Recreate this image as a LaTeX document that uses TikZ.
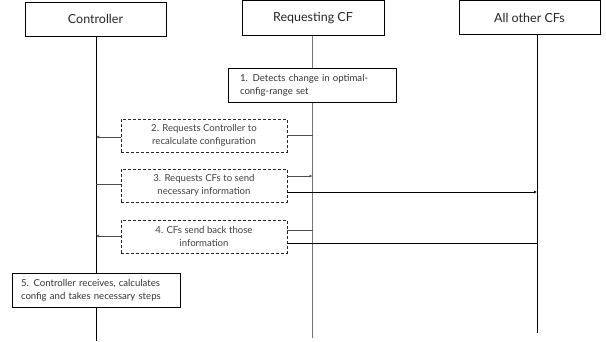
\documentclass[tikz,border=0pt]{standalone}
\usepackage{fontspec}
\setmainfont{Lato}
\usetikzlibrary{arrows.meta}
\begin{document}
\begin{tikzpicture}[x=1pt,y=1pt,
  head/.style={draw=black,line width=0.8pt,fill=white,inner sep=0pt,font=\fontsize{12.5}{14}\selectfont,text=black!85},
  stepbox/.style={draw=black,line width=0.8pt,fill=white,inner ysep=0pt,inner xsep=#1,align=left,font=\fontsize{9.6}{13.2}\selectfont,text=black!80},
  msgbox/.style={draw=black!85,line width=0.8pt,dash pattern=on 3pt off 2pt,fill=white,inner sep=0pt,minimum width=166pt,minimum height=33pt,align=center,font=\fontsize{9.6}{13.2}\selectfont,text=black!75},
  life/.style={line width=0.8pt,black},
  msg/.style={line width=0.8pt,black!70},
  arr/.style={msg,-{Latex[length=3pt,width=3pt]}},
]
\useasboundingbox (0,0) rectangle (606,-341);
% lifeline coordinates
\coordinate (cb) at (96,-341);
\coordinate (rb) at (312.5,-338);
\coordinate (ab) at (537,-333);
% header boxes
\node[head,minimum width=141pt,minimum height=33.5pt] (ctrl) at (95.5,-19.3) {Controller};
\node[head,minimum width=142pt,minimum height=35pt] (req) at (313,-18) {Requesting CF};
\node[head,minimum width=141pt,minimum height=34pt] (oth) at (529.5,-17.5) {All other CFs};
% lifelines
\draw[life] (ctrl.south -| cb) -- (cb);
\draw[line width=1.2pt,black!55] (req.south -| rb) -- (rb);
\draw[life] (oth.south -| ab) -- (ab);
% step boxes
\node[stepbox=12pt,text width=144pt,minimum height=34pt] (s1) at (312,-85) {1. Detects change in optimal-\\config-range set};
\node[stepbox=9pt,text width=150pt,minimum height=34pt] (s5) at (96,-290) {5. Controller receives, calculates\\config and takes necessary steps};
% message boxes
\node[msgbox] (m2) at (204,-135.5) {2. Requests Controller to\\recalculate configuration};
\node[msgbox] (m3) at (204,-185.5) {3. Requests CFs to send\\necessary information};
\node[msgbox] (m4) at (204,-236.5) {4. CFs send back those\\information};
% message 2
\coordinate (r2) at (312.5,-135);
\coordinate (c2) at (96,-137);
\draw[msg] (r2) -- (m2.east |- r2);
\draw[arr] (m2.west |- c2) -- (c2);
% message 3
\coordinate (c3) at (96,-184);
\coordinate (r3) at (312.5,-176);
\coordinate (a3) at (537,-192);
\draw[msg] (c3) -- (m3.west |- c3);
\draw[arr] (m3.east |- r3) -- (r3);
\draw[-{Latex[length=3pt,width=3pt]},line width=0.8pt,black] (m3.east |- a3) -- (a3);
% message 4
\coordinate (r4) at (312.5,-230);
\coordinate (c4) at (96,-236);
\coordinate (a4) at (537,-243);
\draw[msg] (r4) -- (m4.east |- r4);
\draw[arr] (m4.west |- c4) -- (c4);
\draw[line width=0.8pt,black] (a4) -- (m4.east |- a4);
\end{tikzpicture}
\end{document}
